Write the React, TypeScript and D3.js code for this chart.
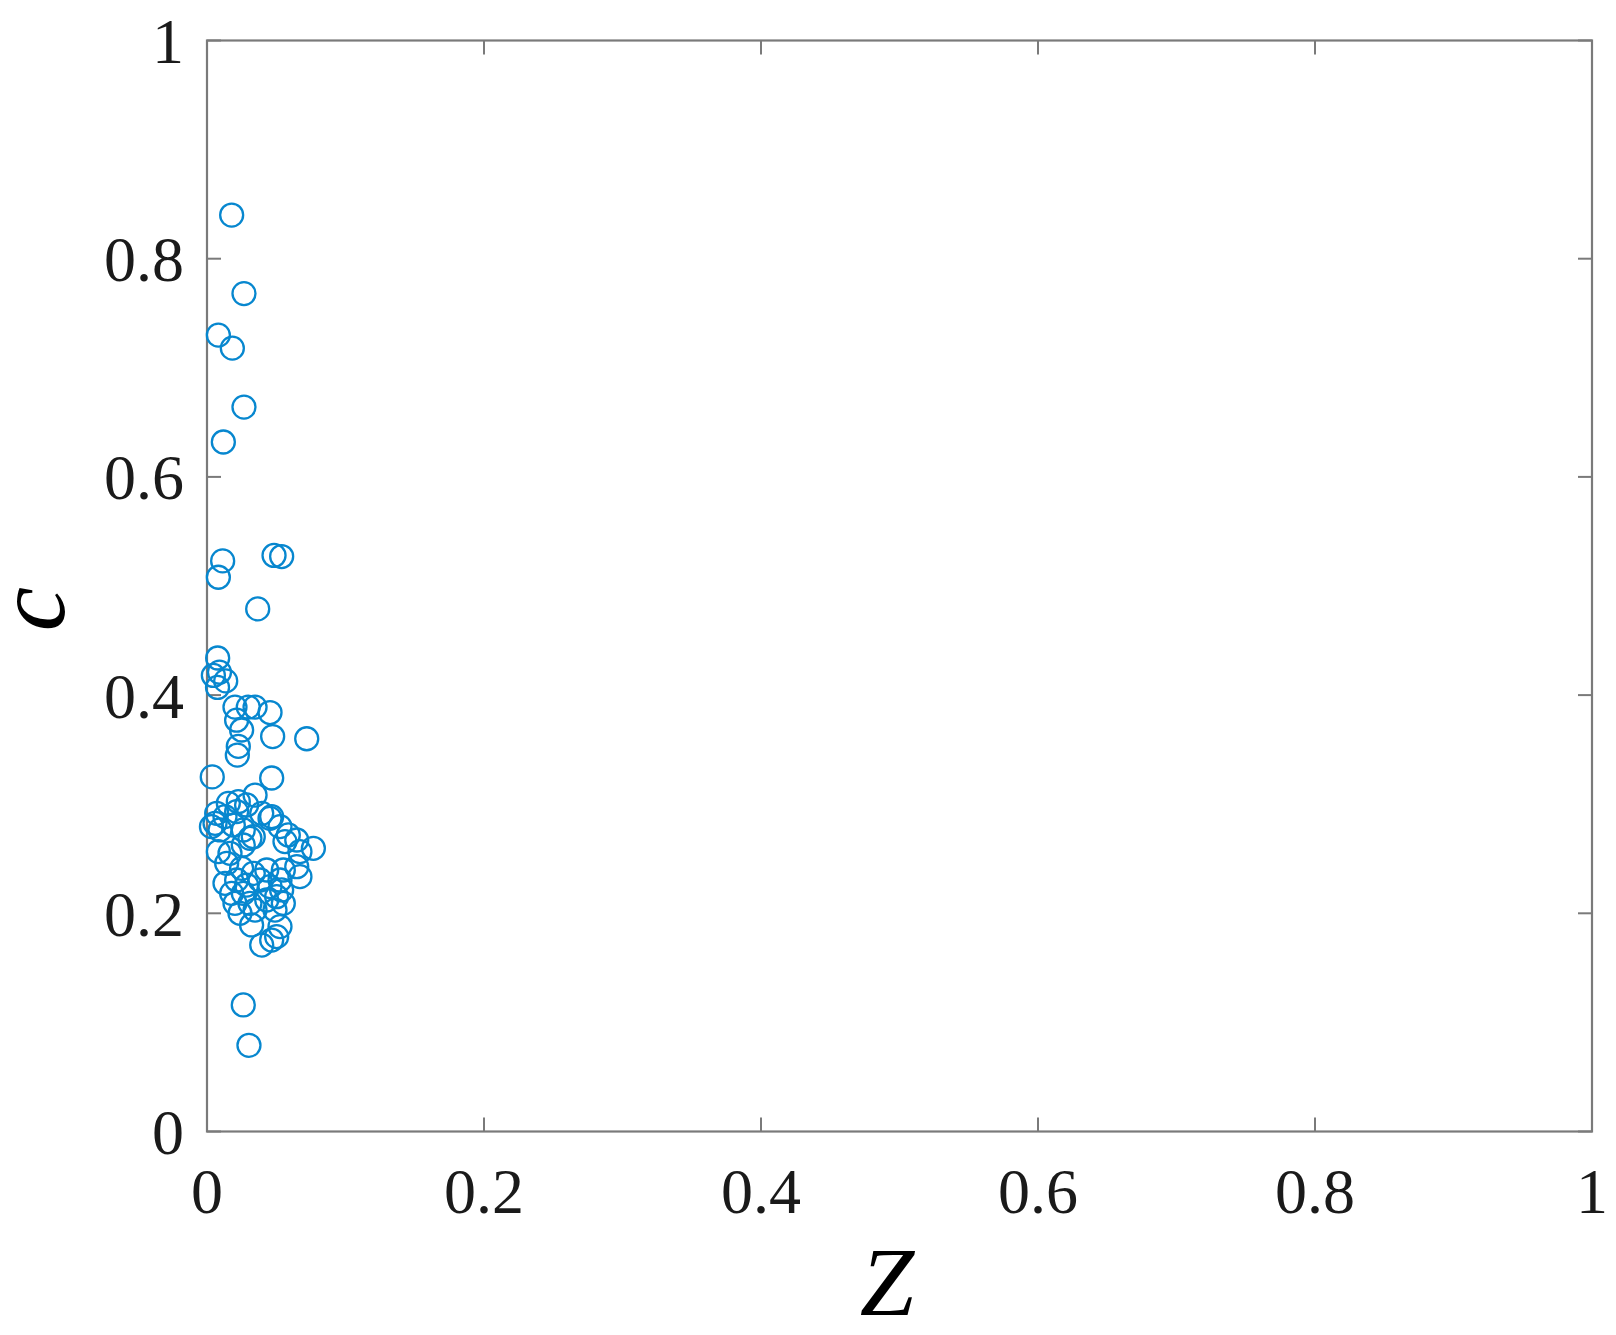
import React from "react";
import * as d3 from "d3";

const zValues: number[] = [
  0.0178, 0.0267, 0.0082, 0.0183, 0.0267, 0.0118,
  0.0113, 0.0082, 0.0484, 0.0539, 0.0366,
  0.0077, 0.0046, 0.009, 0.0135, 0.0076,
  0.0202, 0.0298, 0.0347, 0.0455, 0.0214, 0.025, 0.0474, 0.072, 0.0226, 0.0219, 0.0038, 0.0467,
  0.0262, 0.0303,
  0.007, 0.0154, 0.0226, 0.0286, 0.0347, 0.0395, 0.0467, 0.0058, 0.013, 0.0214,
  0.0032, 0.0094, 0.019, 0.0262, 0.0455, 0.0527, 0.0587, 0.031,
  0.0563, 0.0648, 0.0768, 0.0671, 0.0082, 0.0166, 0.0262, 0.0334,
  0.0142, 0.025, 0.0334, 0.0431, 0.0551, 0.0648, 0.0671, 0.0527,
  0.013, 0.0214, 0.0286, 0.0383, 0.0455, 0.0539, 0.0178, 0.0262,
  0.0202, 0.031, 0.0431, 0.0503, 0.0238, 0.0347, 0.0491, 0.0551,
  0.0322, 0.0527, 0.0503, 0.0395, 0.0467,
];

const cValues: number[] = [
  0.84, 0.768, 0.73, 0.718, 0.664, 0.632,
  0.523, 0.508, 0.528, 0.527, 0.479,
  0.434, 0.418, 0.421, 0.413, 0.407,
  0.389, 0.389, 0.389, 0.384, 0.377, 0.368, 0.362, 0.36, 0.353, 0.345, 0.325, 0.324,
  0.116, 0.079,
  0.2916, 0.3008, 0.3023, 0.2993, 0.3084, 0.2916, 0.2886, 0.2825, 0.2886, 0.2932,
  0.2794, 0.2764, 0.2809, 0.2764, 0.287, 0.2794, 0.2718, 0.2687,
  0.2657, 0.2672, 0.2596, 0.2565, 0.2565, 0.255, 0.2626, 0.2702,
  0.2458, 0.2412, 0.2366, 0.2397, 0.2397, 0.2427, 0.2336, 0.2305,
  0.2275, 0.2305, 0.2259, 0.2305, 0.2244, 0.2214, 0.2183, 0.2183,
  0.2091, 0.2091, 0.2122, 0.2152, 0.2, 0.203, 0.203, 0.2091,
  0.1893, 0.1878, 0.1786, 0.1709, 0.1755,
];

const xTicks: number[] = [0, 0.2, 0.4, 0.6, 0.8, 1];
const yTicks: number[] = [0, 0.2, 0.4, 0.6, 0.8, 1];
const xLabel = "Z";
const yLabel = "c";

const W = 1616;
const H = 1335;
const L = 207;
const R = 1592;
const T = 40.5;
const B = 1131.5;

export default function App() {
  const x = d3.scaleLinear().domain([0, 1]).range([L, R]);
  const y = d3.scaleLinear().domain([0, 1]).range([B, T]);
  const axisColor = "#7a7a7a";
  const tickLen = 14;
  const font = "'Liberation Serif', 'Times New Roman', serif";
  const points = zValues.map((z, i) => ({ z, c: cValues[i] }));
  const fmt = d3.format("~g");

  return (
    <svg
      width={W}
      height={H}
      style={{ position: "absolute", left: 0, top: 0, display: "block", background: "#fff" }}
    >
      <rect x={0} y={0} width={W} height={H} fill="#fff" />
      {xTicks.map((t) => (
        <g key={"xt" + t}>
          <line x1={x(t)} x2={x(t)} y1={B} y2={B - tickLen} stroke={axisColor} strokeWidth={2} />
          <line x1={x(t)} x2={x(t)} y1={T} y2={T + tickLen} stroke={axisColor} strokeWidth={2} />
          <text x={x(t)} y={1213} textAnchor="middle" fontFamily={font} fontSize={64} fill="#1a1a1a">
            {fmt(t)}
          </text>
        </g>
      ))}
      {yTicks.map((t) => (
        <g key={"yt" + t}>
          <line x1={L} x2={L + tickLen} y1={y(t)} y2={y(t)} stroke={axisColor} strokeWidth={2} />
          <line x1={R} x2={R - tickLen} y1={y(t)} y2={y(t)} stroke={axisColor} strokeWidth={2} />
          <text x={184} y={y(t) + 22.5} textAnchor="end" fontFamily={font} fontSize={64} fill="#1a1a1a">
            {fmt(t)}
          </text>
        </g>
      ))}
      <rect x={L} y={T} width={R - L} height={B - T} fill="none" stroke={axisColor} strokeWidth={2.2} />
      {points.map((p, i) => (
        <circle
          key={i}
          cx={x(p.z)}
          cy={y(p.c)}
          r={11.5}
          fill="none"
          stroke="#0787cf"
          strokeWidth={2.3}
        />
      ))}
      <text
        x={887}
        y={1315}
        textAnchor="middle"
        fontFamily={font}
        fontStyle="italic"
        fontSize={98}
        fill="#000"
      >
        {xLabel}
      </text>
      <text
        transform="translate(64,609) rotate(-90)"
        textAnchor="middle"
        fontFamily={font}
        fontStyle="italic"
        fontSize={100}
        fill="#000"
      >
        {yLabel}
      </text>
    </svg>
  );
}
